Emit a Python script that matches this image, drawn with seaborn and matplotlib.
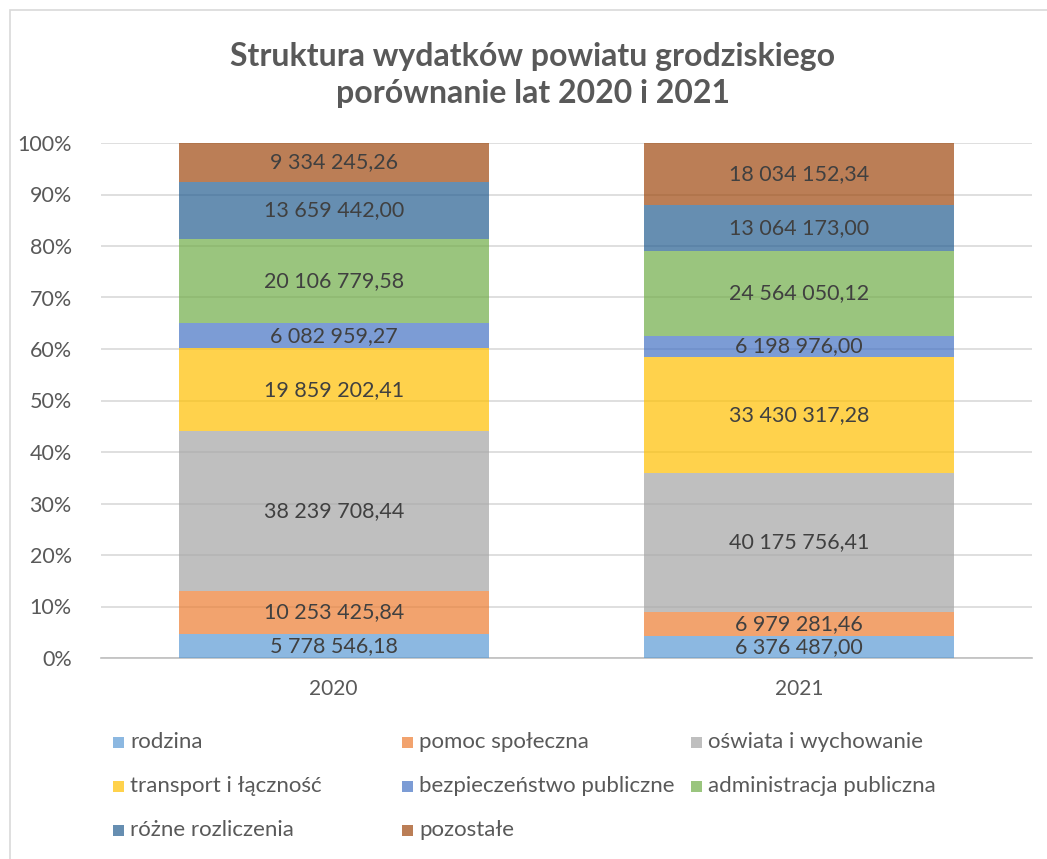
import numpy as np
import pandas as pd
import seaborn as sns
import matplotlib
matplotlib.use("Agg")
import matplotlib.pyplot as plt
from matplotlib.patches import Rectangle

# --- data -------------------------------------------------------------
years = ["2020", "2021"]
categories = [
    "rodzina",
    "pomoc społeczna",
    "oświata i wychowanie",
    "transport i łączność",
    "bezpieczeństwo publiczne",
    "administracja publiczna",
    "różne rozliczenia",
    "pozostałe",
]
values_2020 = [5778546.18, 10253425.84, 38239708.44, 19859202.41,
               6082959.27, 20106779.58, 13659442.00, 9334245.26]
values_2021 = [6376487.00, 6979281.46, 40175756.41, 33430317.28,
               6198976.00, 24564050.12, 13064173.00, 18034152.34]
colors = ["#5B9BD5", "#ED7D31", "#A5A5A5", "#FFC000",
          "#4472C4", "#70AD47", "#255E91", "#9E480E"]
title = "Struktura wydatków powiatu grodziskiego\nporównanie lat 2020 i 2021"

# --- long table with shares and stacking offsets -----------------------
rows = []
for year, vals in zip(years, [values_2020, values_2021]):
    total = sum(vals)
    bottom = 0.0
    for cat, v in zip(categories, vals):
        share = v / total
        rows.append(dict(year=year, category=cat, value=v, share=share, bottom=bottom))
        bottom += share
df = pd.DataFrame(rows)


def fmt_pl(v):
    return f"{v:,.2f}".replace(",", " ").replace(".", ",")


sns.set_theme(style="white")
plt.rcParams["font.family"] = ["Lato", "DejaVu Sans"]

fig = plt.figure(figsize=(10.47, 8.59), dpi=100)
W, H = 1047, 859
ax = fig.add_axes([101 / W, 1 - 658 / H, (1032 - 101) / W, (658 - 143) / H])

# chart-area frame
fig.add_artist(Rectangle((10 / W, -0.05), 1.2, 1 - 10 / H + 0.05,
                         transform=fig.transFigure, fill=False,
                         edgecolor="#D9D9D9", linewidth=1.2, zorder=0))

for cat, col in zip(categories, colors):
    sub = df[df["category"] == cat]
    sns.barplot(data=sub, x="year", y="share", order=years,
                bottom=sub["bottom"].to_numpy(), color=col, alpha=0.7,
                saturation=1, width=0.667, linewidth=0, ax=ax, zorder=3,
                errorbar=None)
    for i, r in enumerate(sub.itertuples()):
        ax.text(i, r.bottom + r.share / 2, fmt_pl(r.value), ha="center",
                va="center", fontsize=15.5, color="#404040", zorder=5)

ax.set_xlim(-0.5, 1.5)
ax.set_ylim(0, 1)
ax.set_yticks(np.arange(0, 1.01, 0.1))
ax.set_yticklabels([f"{int(round(t * 100))}%" for t in np.arange(0, 1.01, 0.1)])
ax.yaxis.grid(True, color="#D9D9D9", linewidth=1.2, zorder=0)
ax.set_axisbelow(True)
for s in ["top", "right", "left"]:
    ax.spines[s].set_visible(False)
ax.spines["bottom"].set_color("#BFBFBF")
ax.spines["bottom"].set_linewidth(1.2)
ax.tick_params(axis="y", length=0, pad=21, labelsize=15.5, labelcolor="#595959")
ax.tick_params(axis="x", length=0, pad=15, labelsize=15, labelcolor="#595959")
ax.set_xlabel("")
ax.set_ylabel("")

fig.text(533 / W, 1 - 75 / H, title, ha="center", va="center",
         fontsize=23, fontweight="bold", color="#595959", linespacing=1.3)

# legend laid out in three fixed columns
col_x = [113, 402, 691]
row_y = [742, 786, 830]
sq = 11
for k, (cat, col) in enumerate(zip(categories, colors)):
    r, c = divmod(k, 3)
    x0, yc = col_x[c], row_y[r]
    fig.add_artist(Rectangle((x0 / W, 1 - (yc + sq / 2) / H), sq / W, sq / H,
                             transform=fig.transFigure, facecolor=col,
                             alpha=0.7, edgecolor="none"))
    fig.text((x0 + sq + 6) / W, 1 - yc / H, cat, ha="left", va="center",
             fontsize=16, color="#595959")

fig.savefig("out.png", dpi=100)
